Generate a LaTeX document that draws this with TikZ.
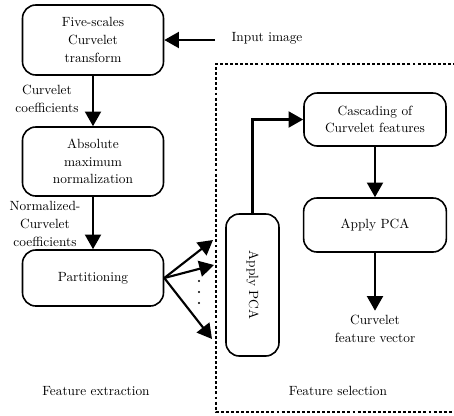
\documentclass[tikz,border=0pt]{standalone}
\usetikzlibrary{arrows.meta}

\tikzset{
  block/.style={draw, line width=1.2pt, rounded corners=10pt, align=center,
    font=\linespread{1.1}\selectfont},
  flow/.style={line width=1.6pt, -{Triangle[length=11pt, width=12pt]}},
  lbl/.style={align=center, font=\linespread{1.1}\selectfont},
  frame/.style={line width=0.9pt, dash pattern=on 2.2pt off 1.6pt}
}

\begin{document}
\begin{tikzpicture}[x=0.75pt, y=-0.75pt]
\useasboundingbox (0, 0) rectangle (454, 415);
% feature extraction chain
\node[block, minimum width=105.75pt, minimum height=52.5pt] (transform) at (93, 40) {Five-scales\\Curvelet\\transform};
\node[block, minimum width=105.75pt, minimum height=51.75pt] (absnorm) at (93, 161.5) {Absolute\\maximum\\normalization};
\node[block, minimum width=105.75pt, minimum height=42pt] (partition) at (93, 278) {Partitioning};
\node[lbl] (inlbl) at (267, 38) {Input image};
\coordinate (insrc) at (215, 40);
\node[lbl] (coefs) at (47, 99) {Curvelet\\coefficients};
\node[lbl] (normcoefs) at (45, 224) {Normalized-\\Curvelet\\coefficients};
\node (extr) at (96, 391) {Feature extraction};
\draw[flow] (insrc) -- (transform.east);
\draw[flow] (transform) -- (absnorm);
\draw[flow] (absnorm) -- (partition);
% feature selection part
\draw[frame] (456, 64) -- (216, 64) -- (216, 412) -- (456, 412);
\node[block, minimum width=39.75pt, minimum height=106.5pt] (pcav) at (252.5, 285) {\rotatebox{-90}{Apply PCA}};
\node[block, minimum width=106.5pt, minimum height=39.75pt] (cascade) at (375, 119.5) {Cascading of\\Curvelet features};
\node[block, minimum width=107pt, minimum height=40.5pt] (pca) at (375, 225) {Apply PCA};
\node[lbl] (vec) at (375, 329) {Curvelet\\feature vector};
\node (sel) at (338, 391) {Feature selection};
\coordinate (p1) at (213, 240);
\coordinate (p2) at (214, 265);
\coordinate (p3) at (212, 339);
\draw[flow] (partition.east) -- (p1);
\draw[flow] (partition.east) -- (p2);
\draw[flow] (partition.east) -- (p3);
\foreach \y in {281, 292, 303}
  \fill (199, \y) circle (0.9pt);
\draw[flow] (pcav.north) |- (cascade.west);
\draw[flow] (cascade) -- (pca);
\draw[flow] (pca) -- (vec);
\end{tikzpicture}
\end{document}
